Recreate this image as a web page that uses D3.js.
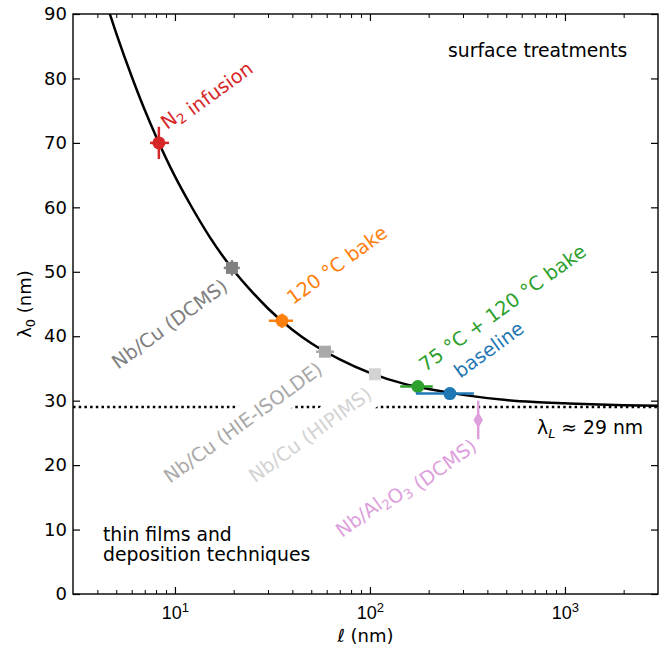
<!DOCTYPE html>
<html>
<head>
<meta charset="utf-8">
<script src="https://cdn.jsdelivr.net/npm/d3@7"></script>
<style>
  body { margin: 0; background: #fff; }
  svg { font-family: "DejaVu Sans", sans-serif; }
</style>
</head>
<body>
<div id="chart"></div>
<script>
// Data --------------------------------------------------------------------------------------------------------------
const seriesNames = ["N2 infusion", "Nb/Cu (DCMS)", "120 °C bake", "Nb/Cu (HIE-ISOLDE)",
  "Nb/Cu (HIPIMS)", "75 °C + 120 °C bake", "baseline", "Nb/Al2O3 (DCMS)"];
const ellValues = [8.27, 19.6, 35.4, 58.8, 106, 176, 257, 359];
const ellLow = [7.45, 17.8, 30.3, 52.9, 100, 143, 172, 359];
const ellHigh = [9.32, 21.5, 40.3, 65.4, 113, 210, 341, 359];
const lambdaValues = [70.0, 50.6, 42.4, 37.6, 34.1, 32.2, 31.1, 27.0];
const lambdaErr = [2.5, 1.2, 1.1, 0.8, 0.6, 0, 0, 3.0];
const markerShapes = ["circle", "square", "circle", "square", "square", "circle", "circle", "diamond"];
const seriesColors = ["#d62728", "#808080", "#ff7f0e", "#a9a9a9", "#d3d3d3", "#2ca02c", "#1f77b4", "#dda0dd"];

// label anchors, in data coordinates (l, lambda)
const labelEll = [9.1, 5.11, 40.3, 9.43, 25.7, 192, 290, 71.9];
const labelLambda = [72.0, 34.8, 44.8, 17.1, 17.2, 34.4, 33.4, 8.7];

// model curve
const curveEll = [4.6, 5, 6, 7, 8, 10, 12, 15, 20, 25, 30, 40, 50, 70, 100, 150, 200, 300, 500, 700, 1000, 1500, 2000, 3000];
const curveLambda = [90.3, 87.0, 80.3, 75.1, 71.0, 64.8, 60.4, 55.5, 50.2, 46.8, 44.3, 41.0, 38.9, 36.4, 34.3, 32.6, 31.8, 30.9, 30.1, 29.8, 29.6, 29.4, 29.3, 29.2];
const londonLambda = 29;

const yTicks = [0, 10, 20, 30, 40, 50, 60, 70, 80, 90];
const xMajorTicks = [10, 100, 1000];
const xMinorTicks = [4, 5, 6, 7, 8, 9, 20, 30, 40, 50, 60, 70, 80, 90, 200, 300, 400, 500, 600, 700, 800, 900, 2000];

// Canvas ------------------------------------------------------------------------------------------------------------
const canvasWidth = 667;
const canvasHeight = 652;
const leftPadding = 73;
const rightPadding = 9;
const topPadding = 14;
const bottomPadding = 58;
const fontSize = 18;
const textFontSize = 18.8;
const labelFontSize = 19.3;
const labelAngle = -36;

const svg = d3.select("#chart")
  .append("svg")
  .attr("width", canvasWidth)
  .attr("height", canvasHeight);

const xScale = d3.scaleLog()
  .domain([3, 3000])
  .range([leftPadding, canvasWidth - rightPadding]);
const yScale = d3.scaleLinear()
  .domain([0, 90])
  .range([canvasHeight - bottomPadding, topPadding]);

const plotLeft = xScale.range()[0];
const plotRight = xScale.range()[1];
const plotTop = yScale.range()[1];
const plotBottom = yScale.range()[0];

svg.append("defs").append("clipPath")
  .attr("id", "plot-clip")
  .append("rect")
  .attr("x", plotLeft)
  .attr("y", plotTop)
  .attr("width", plotRight - plotLeft)
  .attr("height", plotBottom - plotTop);

const plot = svg.append("g").attr("clip-path", "url(#plot-clip)");

// London penetration depth line
plot.append("line")
  .attr("x1", plotLeft)
  .attr("x2", plotRight)
  .attr("y1", yScale(londonLambda))
  .attr("y2", yScale(londonLambda))
  .attr("stroke", "#000")
  .attr("stroke-width", 2.5)
  .attr("stroke-dasharray", "2.5,3.2");

// Rotated labels with white boxes ---------------------------------------------------------------------------------
const labelGroup = plot.append("g");

function addLabel(i, parts) {
  const g = labelGroup.append("g")
    .attr("transform", "translate(" + xScale(labelEll[i]) + "," + yScale(labelLambda[i]) + ") rotate(" + labelAngle + ")");
  const text = g.append("text")
    .attr("fill", seriesColors[i])
    .style("font-size", labelFontSize + "px");
  parts.forEach(function(p) {
    if (p.sub) {
      text.append("tspan").attr("dy", 4).style("font-size", "13.5px").text(p.t);
      text.append("tspan").attr("dy", -4).text("");
    } else {
      text.append("tspan").text(p.t);
    }
  });
  const box = text.node().getBBox();
  const pad = 5;
  g.insert("rect", "text")
    .attr("x", box.x - pad)
    .attr("y", box.y - pad)
    .attr("width", box.width + 2 * pad)
    .attr("height", box.height + 2 * pad)
    .attr("fill", "#fff");
}

addLabel(0, [{t: "N"}, {t: "2", sub: true}, {t: " infusion"}]);
addLabel(1, [{t: "Nb/Cu (DCMS)"}]);
addLabel(2, [{t: "120 °C bake"}]);
addLabel(3, [{t: "Nb/Cu (HIE-ISOLDE)"}]);
addLabel(4, [{t: "Nb/Cu (HIPIMS)"}]);
addLabel(5, [{t: "75 °C + 120 °C bake"}]);
addLabel(6, [{t: "baseline"}]);
addLabel(7, [{t: "Nb/Al"}, {t: "2", sub: true}, {t: "O"}, {t: "3", sub: true}, {t: " (DCMS)"}]);

// Model curve
const line = d3.line()
  .x(d => xScale(d[0]))
  .y(d => yScale(d[1]))
  .curve(d3.curveMonotoneX);

plot.append("path")
  .datum(d3.zip(curveEll, curveLambda))
  .attr("d", line)
  .attr("fill", "none")
  .attr("stroke", "#000")
  .attr("stroke-width", 2.5);

// Data points -----------------------------------------------------------------------------------------------------
const points = d3.range(seriesNames.length).map(i => ({
  ell: ellValues[i], lo: ellLow[i], hi: ellHigh[i],
  lam: lambdaValues[i], err: lambdaErr[i],
  shape: markerShapes[i], color: seriesColors[i]
}));

const pointGroups = plot.selectAll("g.point")
  .data(points)
  .enter()
  .append("g")
  .attr("class", "point");

pointGroups.append("line")
  .attr("x1", d => xScale(d.lo))
  .attr("x2", d => xScale(d.hi))
  .attr("y1", d => yScale(d.lam))
  .attr("y2", d => yScale(d.lam))
  .attr("stroke", d => d.color)
  .attr("stroke-width", 2.5);

pointGroups.append("line")
  .attr("x1", d => xScale(d.ell))
  .attr("x2", d => xScale(d.ell))
  .attr("y1", d => yScale(d.lam - d.err))
  .attr("y2", d => yScale(d.lam + d.err))
  .attr("stroke", d => d.color)
  .attr("stroke-width", 2.5);

pointGroups.each(function(d) {
  const g = d3.select(this);
  const cx = xScale(d.ell);
  const cy = yScale(d.lam);
  if (d.shape === "circle") {
    g.append("circle").attr("cx", cx).attr("cy", cy).attr("r", 6.5).attr("fill", d.color);
  } else if (d.shape === "square") {
    g.append("rect").attr("x", cx - 6).attr("y", cy - 6).attr("width", 12).attr("height", 12).attr("fill", d.color);
  } else {
    g.append("path")
      .attr("d", "M" + cx + "," + (cy - 8) + "L" + (cx + 4.8) + "," + cy + "L" + cx + "," + (cy + 8) + "L" + (cx - 4.8) + "," + cy + "Z")
      .attr("fill", d.color);
  }
});

// Axes ------------------------------------------------------------------------------------------------------------
function styleTicks(axisG, width) {
  axisG.select(".domain").remove();
  axisG.selectAll("line").attr("stroke", "#000").attr("stroke-width", width);
}

const majorLen = 7;
const minorLen = 4;

// bottom
const xAxisMajor = svg.append("g")
  .attr("transform", "translate(0," + plotBottom + ")")
  .call(d3.axisBottom(xScale).tickValues(xMajorTicks).tickSize(-majorLen).tickFormat(""));
styleTicks(xAxisMajor, 1.2);
xAxisMajor.selectAll(".tick").append("text")
  .attr("y", 25)
  .attr("fill", "#000")
  .style("font-size", fontSize + "px")
  .attr("text-anchor", "middle")
  .each(function(d) {
    const t = d3.select(this);
    t.append("tspan").text("10");
    t.append("tspan").attr("dy", -7).style("font-size", "13px").text(Math.round(Math.log10(d)));
  });
const xAxisMinor = svg.append("g")
  .attr("transform", "translate(0," + plotBottom + ")")
  .call(d3.axisBottom(xScale).tickValues(xMinorTicks).tickSize(-minorLen).tickFormat(""));
styleTicks(xAxisMinor, 1);

// top
const xTopMajor = svg.append("g")
  .attr("transform", "translate(0," + plotTop + ")")
  .call(d3.axisTop(xScale).tickValues(xMajorTicks).tickSize(-majorLen).tickFormat(""));
styleTicks(xTopMajor, 1.2);
const xTopMinor = svg.append("g")
  .attr("transform", "translate(0," + plotTop + ")")
  .call(d3.axisTop(xScale).tickValues(xMinorTicks).tickSize(-minorLen).tickFormat(""));
styleTicks(xTopMinor, 1);

// left
const yAxis = svg.append("g")
  .attr("transform", "translate(" + plotLeft + ",0)")
  .call(d3.axisLeft(yScale).tickValues(yTicks).tickSize(-majorLen).tickPadding(6).tickFormat(d3.format("d")));
styleTicks(yAxis, 1.2);
yAxis.selectAll("text")
  .attr("fill", "#000")
  .style("font-size", fontSize + "px")
  .style("font-family", "DejaVu Sans, sans-serif");

// right
const yRight = svg.append("g")
  .attr("transform", "translate(" + plotRight + ",0)")
  .call(d3.axisRight(yScale).tickValues(yTicks).tickSize(-majorLen).tickFormat(""));
styleTicks(yRight, 1.2);

// frame
svg.append("rect")
  .attr("x", plotLeft)
  .attr("y", plotTop)
  .attr("width", plotRight - plotLeft)
  .attr("height", plotBottom - plotTop)
  .attr("fill", "none")
  .attr("stroke", "#000")
  .attr("stroke-width", 1.4);

// axis titles
const yTitle = svg.append("text")
  .attr("transform", "translate(31," + (plotTop + plotBottom) / 2 + ") rotate(-90)")
  .attr("text-anchor", "middle")
  .style("font-size", fontSize + "px");
yTitle.append("tspan").text("λ");
yTitle.append("tspan").attr("dy", 4).style("font-size", "13px").text("0");
yTitle.append("tspan").attr("dy", -4).text(" (nm)");

const xTitle = svg.append("text")
  .attr("x", (plotLeft + plotRight) / 2)
  .attr("y", 642)
  .attr("text-anchor", "middle")
  .style("font-size", fontSize + "px");
xTitle.append("tspan").style("font-style", "italic").text("ℓ");
xTitle.append("tspan").text(" (nm)");

// Annotations -----------------------------------------------------------------------------------------------------
svg.append("text")
  .attr("x", 448)
  .attr("y", 57)
  .style("font-size", textFontSize + "px")
  .text("surface treatments");

const filmsText = svg.append("text")
  .attr("x", 103)
  .attr("y", 541)
  .style("font-size", textFontSize + "px");
filmsText.append("tspan").attr("x", 103).text("thin films and");
filmsText.append("tspan").attr("x", 103).attr("dy", 20).text("deposition techniques");

const londonText = svg.append("text")
  .attr("x", 537)
  .attr("y", 434)
  .style("font-size", textFontSize + "px");
londonText.append("tspan").text("λ");
londonText.append("tspan").attr("dy", 4).style("font-size", "13px").style("font-style", "italic").text("L");
londonText.append("tspan").attr("dy", -4).text(" ≈ " + londonLambda + " nm");
</script>
</body>
</html>
